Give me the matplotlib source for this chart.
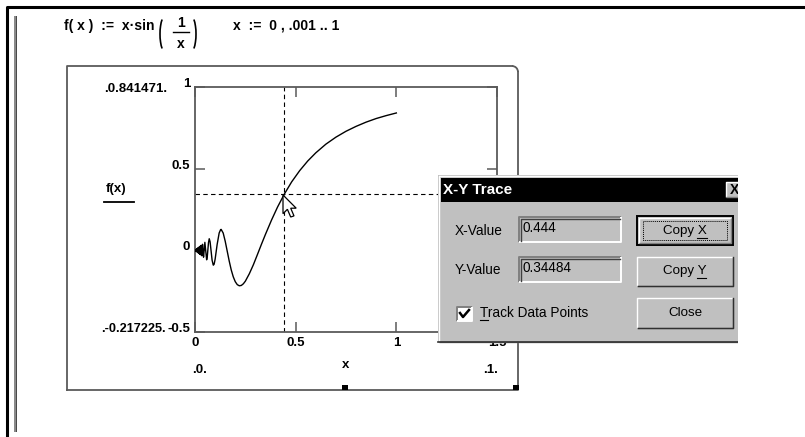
import matplotlib
matplotlib.use('Agg')
import matplotlib.pyplot as plt
from matplotlib.patches import Rectangle, Polygon, Arc

plt.rcParams['font.family'] = ['Liberation Sans', 'DejaVu Sans']

# f(x) = x*sin(1/x) traced in Mathcad
xs = [0.001, 0.002, 0.003, 0.004, 0.005, 0.006, 0.007, 0.008, 0.009, 0.010,
      0.011, 0.012, 0.013, 0.014, 0.015, 0.016, 0.017, 0.018, 0.019, 0.020,
      0.021, 0.022, 0.023, 0.024, 0.025, 0.026, 0.027, 0.028,
      0.0303, 0.0318, 0.0335, 0.0354, 0.0374, 0.0398, 0.0424, 0.0455, 0.049,
      0.053, 0.0579, 0.061, 0.0637, 0.067, 0.0707, 0.075, 0.08, 0.085, 0.0909,
      0.095, 0.1, 0.106, 0.11, 0.12, 0.1273, 0.13, 0.14, 0.15, 0.16, 0.17,
      0.18, 0.19, 0.2, 0.21, 0.22, 0.23, 0.24, 0.25, 0.27, 0.29, 0.31, 0.33,
      0.35, 0.38, 0.41, 0.444, 0.48, 0.52, 0.56, 0.6, 0.65, 0.7, 0.75, 0.8,
      0.85, 0.9, 0.95, 1.0]
ys = [0.001, -0.002, 0.003, -0.004, 0.005, -0.005, 0.007, -0.007, 0.009, -0.009,
      0.011, -0.011, 0.012, -0.013, 0.014, -0.015, 0.016, -0.017, 0.018, -0.019,
      0.020, -0.021, 0.022, -0.023, 0.024, -0.025, 0.026, -0.027,
      0.030, 0.0, -0.033, 0.0, 0.037, 0.0, -0.042, 0.0, 0.049,
      0.0, -0.058, -0.039, 0.0, 0.047, 0.071, 0.052, -0.005, -0.061, -0.091,
      -0.085, -0.054, 0.0, 0.036, 0.106, 0.127, 0.128, 0.106, 0.056, -0.005, -0.066,
      -0.120, -0.162, -0.192, -0.210, -0.217, -0.215, -0.205, -0.189, -0.143, -0.088, -0.026, 0.037,
      0.098, 0.185, 0.265, 0.345, 0.419, 0.488, 0.547, 0.597, 0.650, 0.693, 0.729, 0.759,
      0.785, 0.807, 0.825, 0.841]

x_ticks = [0, 0.5, 1, 1.5]
x_tick_labels = ['0', '0.5', '1', '1.5']
y_ticks = [-0.5, 0, 0.5, 1]
y_tick_labels = ['-0.5', '0', '0.5', '1']

trace_x = 0.444
trace_y = 0.34484
trace_x_txt = '0.444'
trace_y_txt = '0.34484'
y_max_txt = '0.841471'
y_min_txt = '-0.217225'
x_min_txt = '0'
x_max_txt = '1'

W, H = 805, 437
grey = '#5a5a5a'
dlg = '#c0c0c0'

fig = plt.figure(figsize=(W/100, H/100), dpi=100)

# ---- the x-y plot itself
ax = fig.add_axes([195/W, 1-332/H, 302/W, 245/H])
ax.plot(xs, ys, color='black', lw=1.0, zorder=3)
ax.axvline(trace_x, color='black', lw=0.8, dashes=(4, 3), zorder=2)
ax.axhline(trace_y, color='black', lw=0.8, dashes=(4, 3), zorder=2)
ax.set_xlim(0, 1.5)
ax.set_ylim(-0.5, 1)
ax.set_xticks(x_ticks, x_tick_labels)
ax.set_yticks(y_ticks, y_tick_labels)
ax.tick_params(direction='in', length=7, width=1.1, color=grey,
               top=True, right=True, labelsize=9.5)
ax.tick_params(axis='x', pad=3.5)
ax.tick_params(axis='y', pad=3.6)
for s in ax.spines.values():
    s.set_color(grey)
    s.set_linewidth(1.3)
for lab in ax.get_xticklabels() + ax.get_yticklabels():
    lab.set_fontweight('bold')
for lab in ax.get_yticklabels():
    lab.set_va('baseline')

# ---- overlay in pixel coordinates for the worksheet and dialog
ov = fig.add_axes([0, 0, 1, 1], zorder=5)
ov.set_xlim(0, W)
ov.set_ylim(H, 0)
ov.axis('off')

# window border and region bar
ov.plot([7, 7, W], [H, 7, 7], color='black', lw=2.2, solid_capstyle='butt')
ov.add_patch(Rectangle((14, 16), 3, 416, color='#8a8a8a', lw=0))
ov.add_patch(Rectangle((16, 16), 1.3, 416, color='#4a4a4a', lw=0))

# equation line
bold = dict(fontsize=10, fontweight='bold', va='center', ha='left')
ov.text(64, 26, 'f( x )  :=  x·sin', **bold)
ov.add_patch(Arc((166, 34), 12, 38, theta1=105, theta2=255, color='black', lw=1.2))
ov.add_patch(Arc((190, 34), 12, 38, theta1=-75, theta2=75, color='black', lw=1.2))
ov.text(180.5, 23, '1', fontsize=10, fontweight='bold', ha='center', va='center')
ov.plot([173, 189], [32, 32], color='black', lw=1.0)
ov.text(181, 44, 'x', fontsize=10, fontweight='bold', ha='center', va='center')
ov.text(233, 26, 'x  :=  0 , .001 .. 1', **bold)

# plot region frame with rounded corner
ov.plot([67, 67, 512], [390, 66, 66], color=grey, lw=1.3, zorder=1)
ov.add_patch(Arc((512, 72), 12, 12, theta1=270, theta2=360, color=grey, lw=1.3, zorder=1))
ov.plot([518, 518, 67], [72, 390, 390], color=grey, lw=1.3, zorder=1)
ov.add_patch(Rectangle((342, 385), 6, 5, color='black', lw=0, zorder=1))
ov.add_patch(Rectangle((513, 385), 6, 5, color='black', lw=0, zorder=1))

# limit placeholders and axis names
small = dict(fontsize=9.5, fontweight='bold')
ov.text(104, 92, '.' + y_max_txt + '.', va='baseline', ha='left', **small)
ov.text(166, 332, '.' + y_min_txt + '.', va='baseline', ha='right',
        fontsize=9.2, fontweight='bold')
ov.text(200, 373, '.' + x_min_txt + '.', va='baseline', ha='center', **small)
ov.text(491, 373, '.' + x_max_txt + '.', va='baseline', ha='center', **small)
ov.text(116, 189, 'f(x)', va='center', ha='center', **small)
ov.plot([104, 134], [202, 202], color='black', lw=1.3)
ov.text(346, 365, 'x', va='center', ha='center', **small)

# ---- X-Y Trace dialog (drawn above the worksheet)
ZP, ZL = 5, 6


def bevel(x0, y0, x1, y1, raised=True, lw=1.0):
    hi, lo = ('white', '#808080') if raised else ('#808080', 'white')
    ov.plot([x0, x0, x1], [y1, y0, y0], color=hi, lw=lw, solid_capstyle='butt', zorder=ZL)
    ov.plot([x0, x1, x1], [y1, y1, y0], color=lo, lw=lw, solid_capstyle='butt', zorder=ZL)


ov.add_patch(Rectangle((438, 175), 312, 167, fc=dlg, ec='none', zorder=ZP))
bevel(438.5, 175.5, 760, 341.5)
ov.plot([438, 760], [342, 342], color='#303030', lw=1.2, zorder=ZL)
ov.add_patch(Rectangle((441, 178), 320, 24, fc='black', ec='none', zorder=ZP))
ov.text(443, 190, 'X-Y Trace', color='white', fontsize=11, fontweight='bold',
        va='center', ha='left', zorder=ZL)
ov.add_patch(Rectangle((726, 182), 16, 15, fc=dlg, ec='none', zorder=ZL))
bevel(726, 182, 742, 197)
ov.text(734, 189.5, 'X', fontsize=10, fontweight='bold', va='center', ha='center', zorder=ZL)

dtxt = dict(fontsize=9.8, va='center', ha='left', color='black', zorder=ZL)
ov.text(455, 231, 'X-Value', **dtxt)
ov.text(455, 270, 'Y-Value', **dtxt)
for top, val in [(217, trace_x_txt), (257, trace_y_txt)]:
    bevel(519, top, 621, top + 25, raised=False, lw=1.4)
    ov.plot([520.5, 520.5, 620], [top + 24, top + 1.5, top + 1.5], color='#404040',
            lw=1.0, zorder=ZL)
    ov.text(522, top + 11, val, **dtxt)

# buttons
btxt = dict(fontsize=9.6, va='center', ha='center', zorder=ZL)
ov.add_patch(Rectangle((637, 216), 96, 29, fc='none', ec='black', lw=1.4, zorder=ZL))
bevel(639, 218, 731, 243)
ov.add_patch(Rectangle((643, 221), 84, 19, fc='none', ec='black', lw=0.7,
                       ls=(0, (1, 1)), zorder=ZL))
ov.text(685, 231, 'Copy X', **btxt)
ov.plot([697, 707], [238, 238], color='black', lw=0.8, zorder=ZL)
bevel(637, 257, 733, 286)
ov.plot([638, 733, 733], [286, 286, 257], color='#303030', lw=1.0, zorder=ZL)
ov.text(685, 271, 'Copy Y', **btxt)
ov.plot([697, 706], [278, 278], color='black', lw=0.8, zorder=ZL)
bevel(637, 298, 733, 328)
ov.plot([638, 733, 733], [328, 328, 298], color='#303030', lw=1.0, zorder=ZL)
ov.text(685, 313, 'Close', **btxt)

# check box
ov.add_patch(Rectangle((457, 307), 15, 14, fc='white', ec='none', zorder=ZP))
bevel(457, 307, 472, 321, raised=False, lw=1.4)
ov.plot([460, 463, 469], [313, 317, 310], color='black', lw=1.8, zorder=ZL)
ov.text(480, 313, 'Track Data Points', **dtxt)
ov.plot([480, 488], [320, 320], color='black', lw=0.8, zorder=ZL)

# screenshot is cut off to the right of the dialog
ov.add_patch(Rectangle((738, 170), 70, 180, fc='white', ec='none', zorder=8))

# mouse cursor
arrow = [(0, 0), (0, 17), (4, 13), (7, 20), (10, 19), (7, 12), (12, 12)]
ov.add_patch(Polygon([(283 + 1.1*a, 195 + 1.1*b) for a, b in arrow],
                     closed=True, fc='white', ec='black', lw=0.9, zorder=10))

fig.savefig('out.png', dpi=100)
